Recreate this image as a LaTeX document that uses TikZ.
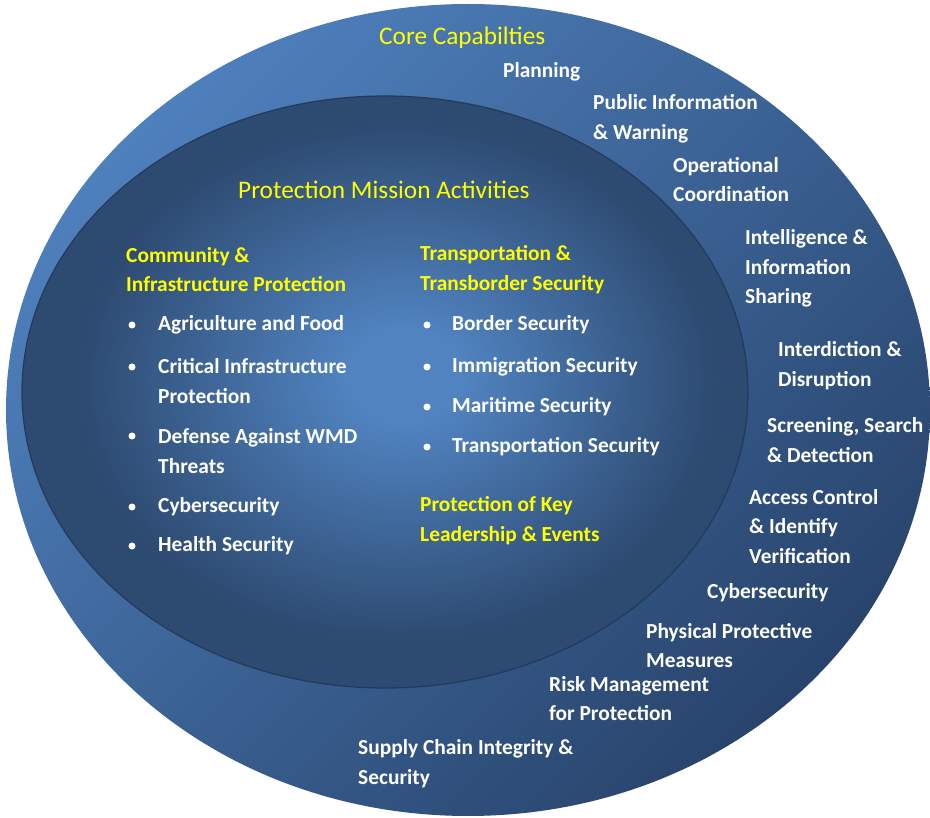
\documentclass[tikz,border=0pt]{standalone}
\usepackage{fontspec}
\setmainfont{Carlito}
\usepackage{tikz}
\usetikzlibrary{positioning}
\usepackage{xcolor}

\definecolor{outerlt}{RGB}{78,128,189}
\definecolor{outerdk}{RGB}{40,68,108}
\definecolor{innerlt}{RGB}{80,131,192}
\definecolor{innerdk}{RGB}{45,74,112}
\definecolor{rimline}{RGB}{36,58,90}
\definecolor{headyellow}{RGB}{255,255,0}
\pgfdeclareradialshading{innerglow}{\pgfpoint{1.5bp}{1.5bp}}{color(0bp)=(innerlt); color(4bp)=(innerlt); color(22bp)=(innerdk); color(25bp)=(innerdk); color(50bp)=(innerdk)}

\begin{document}
\begin{tikzpicture}[x=1pt, y=-1pt]
    \tikzstyle{item} = [text=white, font=\bfseries\fontsize{21.4}{29.5}\selectfont, align=left, anchor=west, inner sep=0pt]
    \tikzstyle{group} = [item, text=headyellow]
    \tikzstyle{title} = [text=headyellow, font=\fontsize{25.3}{29}\selectfont, anchor=west, inner sep=0pt]
    \tikzstyle{dot} = [circle, fill=white, inner sep=0pt, minimum size=7pt]
    \useasboundingbox (0,0) rectangle (930,818);
    \shade[top color=outerlt, bottom color=outerdk, shading angle=45] (468,410) ellipse [x radius=462, y radius=406];
    \shadedraw[shading=innerglow, draw=rimline, line width=1.2pt] (385,392) ellipse [x radius=363, y radius=296];
    % core capabilities ring
    \node [title] (coretitle) at (379,38) {Core Capabilties};
    \node [item] (planning) at (503,72) {Planning};
    \node [item] (pubinfo) at (593,119) {Public Information\\\& Warning};
    \node [item] (opcoord) at (673,179.5) {Operational\\Coordination};
    \node [item] (intel) at (745,268.5) {Intelligence \&\\Information\\Sharing};
    \node [item] (interdict) at (778,365.5) {Interdiction \&\\Disruption};
    \node [item] (screening) at (767,440) {Screening, Search\\\& Detection};
    \node [item] (access) at (749,526.5) {Access Control\\\& Identify\\Verification};
    \node [item] (cybercore) at (707,593) {Cybersecurity};
    \node [item] (physical) at (646,645.5) {Physical Protective\\Measures};
    \node [item] (risk) at (549,698.5) {Risk Management\\for Protection};
    \node [item] (supply) at (358,763.5) {Supply Chain Integrity \&\\Security};
    % mission activities
    \node [title] (missiontitle) at (238,190) {Protection Mission Activities};
    \node [group] (community) at (126,269.5) {Community \&\\Infrastructure Protection};
    \node [dot] (agridot) at (132,325) {};
    \node [item] (agri) at (158,325) {Agriculture and Food};
    \node [dot] (critdot) at (132,367) {};
    \node [item] (crit) at (158,381) {Critical Infrastructure\\Protection};
    \node [dot] (wmddot) at (132,436) {};
    \node [item] (wmd) at (158,451) {Defense Against WMD\\Threats};
    \node [dot] (cyberdot) at (132,507) {};
    \node [item] (cyber) at (158,507) {Cybersecurity};
    \node [dot] (healthdot) at (132,546) {};
    \node [item] (health) at (158,546) {Health Security};
    \node [group] (transport) at (420,269.5) {Transportation \&\\Transborder Security};
    \node [dot] (borderdot) at (427,325) {};
    \node [item] (border) at (452,325) {Border Security};
    \node [dot] (immigdot) at (427,367) {};
    \node [item] (immig) at (452,367) {Immigration Security};
    \node [dot] (maritdot) at (427,407) {};
    \node [item] (marit) at (452,407) {Maritime Security};
    \node [dot] (transdot) at (427,447) {};
    \node [item] (trans) at (452,447) {Transportation Security};
    \node [group] (keyevents) at (420,520.5) {Protection of Key\\Leadership \& Events};
\end{tikzpicture}
\end{document}
